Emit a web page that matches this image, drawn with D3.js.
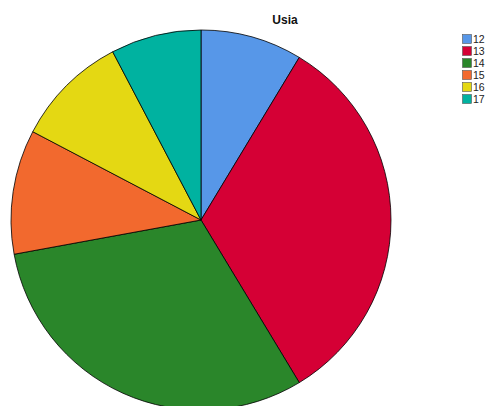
<!DOCTYPE html>
<html><head><meta charset="utf-8">
<script src="https://cdn.jsdelivr.net/npm/d3@7"></script>
<style>body{margin:0;background:#fff}svg{display:block}</style>
</head><body>
<script>
const categories = ["12","13","14","15","16","17"];
const values = [9, 34, 32, 11, 10, 8];
const colors = ["#5797E8","#D50035","#2A862A","#F2692E","#E4D813","#00B2A0"];
const title = "Usia";

const W = 486, H = 406;
const svg = d3.select("body").append("svg").attr("width", W).attr("height", H);
svg.append("rect").attr("width", W).attr("height", H).attr("fill", "#fff");

const cx = 201, cy = 220, r = 190;
const pie = d3.pie().sort(null).value(d => d.v);
const arc = d3.arc().innerRadius(0).outerRadius(r);
const data = categories.map((c, i) => ({c, v: values[i], col: colors[i]}));
const color = d3.scaleOrdinal().domain(categories).range(colors);

svg.append("g").attr("transform", `translate(${cx},${cy})`)
  .selectAll("path").data(pie(data)).join("path")
  .attr("d", arc).attr("fill", d => color(d.data.c))
  .attr("stroke", "#000").attr("stroke-width", 0.8).attr("stroke-linejoin", "round");

svg.append("text").attr("x", 285).attr("y", 24).attr("text-anchor", "middle")
  .attr("font-family", "Arial, 'Liberation Sans', sans-serif").attr("font-weight", "bold")
  .attr("font-size", 12).attr("fill", "#111").text(title);

const y = d3.scaleBand().domain(categories).range([33, 105]);
const lg = svg.append("g");
lg.selectAll("rect").data(categories).join("rect")
  .attr("x", 462.5).attr("y", d => y(d) + 1.5).attr("width", 9).attr("height", 9)
  .attr("fill", d => color(d)).attr("stroke", "#555").attr("stroke-width", 0.6);
lg.selectAll("text").data(categories).join("text")
  .attr("x", 473).attr("y", d => y(d) + 10)
  .attr("font-family", "Arial, 'Liberation Sans', sans-serif").attr("font-size", 10.5)
  .attr("fill", "#222").text(d => d);
</script>
</body></html>
